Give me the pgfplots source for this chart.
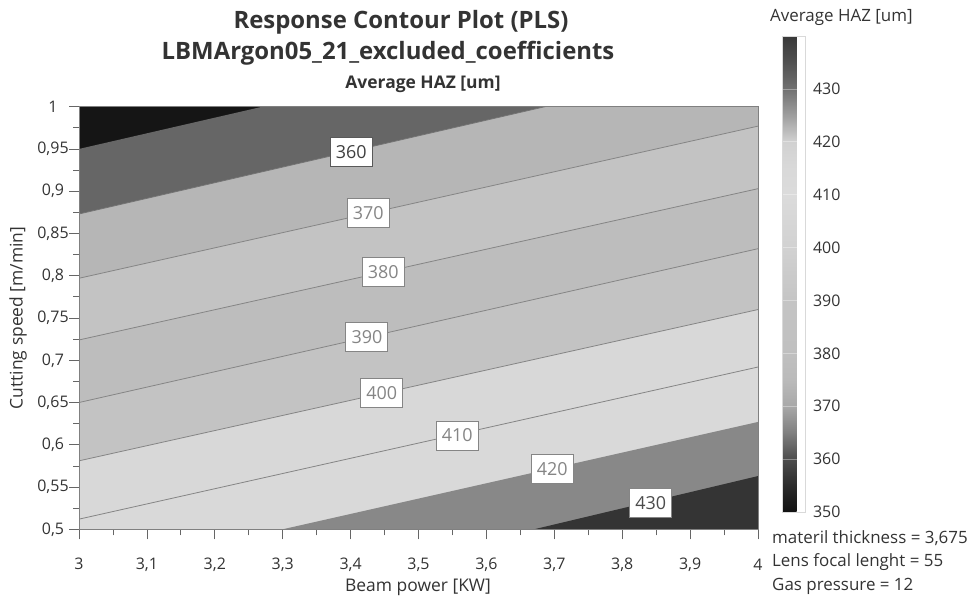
\documentclass[border=0pt]{standalone}
\usepackage{pgfplots}
\pgfplotsset{compat=1.18}
\usepackage{fontspec}
\setmainfont{Open Sans}
\definecolor{c0}{HTML}{151515}
\definecolor{c350}{HTML}{666666}
\definecolor{c360}{HTML}{B6B6B6}
\definecolor{c370}{HTML}{C3C3C3}
\definecolor{c380}{HTML}{BDBDBD}
\definecolor{c390}{HTML}{C3C3C3}
\definecolor{c400}{HTML}{D8D8D8}
\definecolor{c410}{HTML}{D9D9D9}
\definecolor{c420}{HTML}{888888}
\definecolor{c430}{HTML}{343434}
\definecolor{cline}{HTML}{858585}
\definecolor{ctext}{HTML}{333333}
\newcommand{\fs}[1]{\fontsize{#1}{#1}\selectfont}
\tikzset{lab/.style={fill=white, draw=cline, line width=0.9bp, text=cline, font=\fs{18}, inner xsep=0pt, inner ysep=8bp, minimum width=42bp, text height=13bp, text depth=0pt}}
\begin{document}
\begin{tikzpicture}[x=1bp,y=1bp]
\path[use as bounding box] (0,0) rectangle (974,596);
\begin{axis}[
  at={(79bp,66.7bp)}, anchor=south west,
  scale only axis, width=679bp, height=422.6bp,
  xmin=3, xmax=4, ymin=0.5, ymax=1,
  xtick={3,3.1,3.2,3.3,3.4,3.5,3.6,3.7,3.8,3.9,4},
  ytick={0.5,0.55,0.6,0.65,0.7,0.75,0.8,0.85,0.9,0.95,1},
  minor x tick num=1, minor y tick num=1,
  tick align=outside, xtick pos=bottom, ytick pos=left,
  major tick length=10bp, minor tick length=6bp,
  tick style={draw=black!60, line width=0.8bp},
  axis line style={draw=black!50, line width=0.8bp},
  axis on top,
  /pgf/number format/use comma,
  /pgf/number format/assume math mode=true,
  ticklabel style={font=\fs{16}, text=ctext},
  xticklabel style={anchor=center, yshift=-25bp},
  yticklabel style={anchor=center, xshift=-16bp},
  colormap={haz}{gray(0cm)=(0.07); gray(5cm)=(0.17); gray(10cm)=(0.30); gray(15cm)=(0.50); gray(20cm)=(0.66); gray(25cm)=(0.73); gray(30cm)=(0.75); gray(40cm)=(0.77); gray(50cm)=(0.82); gray(60cm)=(0.86); gray(65cm)=(0.85); gray(70cm)=(0.82); gray(75cm)=(0.62); gray(80cm)=(0.44); gray(85cm)=(0.32); gray(90cm)=(0.22)},
  point meta min=350, point meta max=440,
  colorbar,
  colorbar style={
    at={(parent axis.north east)}, anchor=north west, xshift=16bp, yshift=70.7bp,
    scale only axis, width=23bp, height=476bp,
    ytick={350,360,370,380,390,400,410,420,430},
    major tick length=0pt,
    /pgf/number format/assume math mode=true,
    yticklabel style={font=\fs{16}, text=ctext, anchor=west, xshift=4bp},
    axis line style={draw=black!15},
    ymajorgrids, grid style={white, opacity=0.35, line width=0.6bp},
  },
]
% filled bands: region below each contour line (values above the level)
\addplot[fill=c0, draw=none] coordinates {(3,0.3) (3,1.2) (4,1.2) (4,0.3)};
\addplot[fill=c350, draw=none] coordinates {(3,0.950) (4,1.135) (4,0.3) (3,0.3)};
\addplot[fill=c360, draw=none] coordinates {(3,0.873) (4,1.058) (4,0.3) (3,0.3)};
\addplot[fill=c370, draw=none] coordinates {(3,0.797) (4,0.977) (4,0.3) (3,0.3)};
\addplot[fill=c380, draw=none] coordinates {(3,0.724) (4,0.903) (4,0.3) (3,0.3)};
\addplot[fill=c390, draw=none] coordinates {(3,0.650) (4,0.832) (4,0.3) (3,0.3)};
\addplot[fill=c400, draw=none] coordinates {(3,0.581) (4,0.760) (4,0.3) (3,0.3)};
\addplot[fill=c410, draw=none] coordinates {(3,0.512) (4,0.692) (4,0.3) (3,0.3)};
\addplot[fill=c420, draw=none] coordinates {(3,0.4456) (4,0.627) (4,0.3) (3,0.3)};
\addplot[fill=c430, draw=none] coordinates {(3,0.372) (4,0.563) (4,0.3) (3,0.3)};
% contour lines
\addplot[draw=black!55, line width=0.7bp] coordinates {(3,0.873) (4,1.058)};
\addplot[draw=cline, line width=0.8bp] coordinates {(3,0.797) (4,0.977)};
\addplot[draw=cline, line width=0.8bp] coordinates {(3,0.724) (4,0.903)};
\addplot[draw=cline, line width=0.8bp] coordinates {(3,0.650) (4,0.832)};
\addplot[draw=cline, line width=0.8bp] coordinates {(3,0.581) (4,0.760)};
\addplot[draw=cline, line width=0.8bp] coordinates {(3,0.512) (4,0.692)};
% contour labels
\node[lab, draw=black!65, text=black!75] at (axis cs:3.401,0.946) {360};
\node[lab] at (axis cs:3.426,0.874) {370};
\node[lab] at (axis cs:3.448,0.804) {380};
\node[lab] at (axis cs:3.424,0.728) {390};
\node[lab] at (axis cs:3.446,0.661) {400};
\node[lab] at (axis cs:3.557,0.611) {410};
\node[lab] at (axis cs:3.697,0.571) {420};
\node[lab, text=black!70] at (axis cs:3.842,0.531) {430};
\end{axis}
% titles and labels
\node[font=\fs{24}\bfseries, text=ctext] at (401,574) {Response Contour Plot (PLS)};
\node[font=\fs{24}\bfseries, text=ctext] at (388,543) {LBMArgon05\_21\_excluded\_coefficients};
\node[font=\fs{17.5}\bfseries, text=ctext] at (423,512) {Average HAZ [um]};
\node[font=\fs{17.5}, text=ctext, rotate=90] at (18,278) {Cutting speed [m/min]};
\node[font=\fs{17.5}, text=ctext] at (418,9) {Beam power [KW]};
\node[font=\fs{17}, text=ctext, anchor=west, inner sep=0pt] at (770,579) {Average HAZ [um]};
\node[font=\fs{17}, text=ctext, anchor=west, inner sep=0pt] at (772,58) {materil thickness = 3,675};
\node[font=\fs{17}, text=ctext, anchor=west, inner sep=0pt] at (772,34) {Lens focal lenght = 55};
\node[font=\fs{17}, text=ctext, anchor=west, inner sep=0pt] at (772,10) {Gas pressure = 12};
\end{tikzpicture}
\end{document}
